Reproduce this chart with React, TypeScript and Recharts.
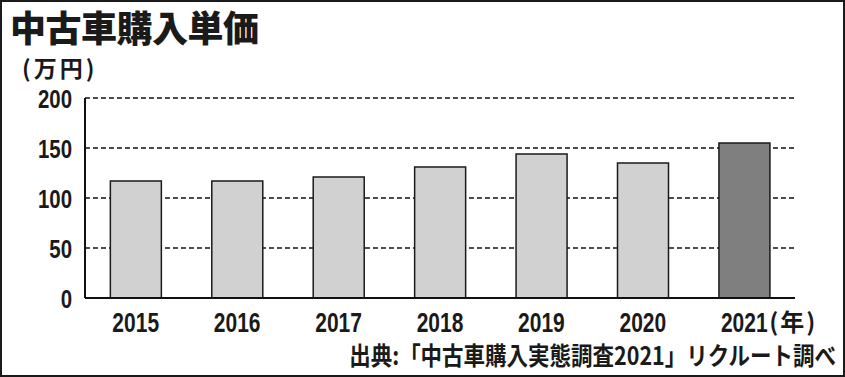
import { BarChart, Bar, XAxis, YAxis, CartesianGrid, Cell } from "recharts"

const years = ["2015", "2016", "2017", "2018", "2019", "2020", "2021"]
const prices = [117, 117, 121, 131, 144, 135, 155]
const yTicks = [0, 50, 100, 150, 200]

const data = years.map((year, i) => ({ year, price: prices[i] }))

const numFont = "'Liberation Sans', Arial, sans-serif"
const jpFont = "'Noto Sans CJK JP', sans-serif"
const ink = "#1a1a1a"

// condensed digits: Liberation Sans Bold squeezed horizontally
const XTick = (props: any) => {
  const { x, y, payload, index } = props
  const last = index === years.length - 1
  return (
    <g>
      <text
        transform={`translate(${x},${y + 19}) scale(0.75,1)`}
        textAnchor="middle"
        fontFamily={numFont}
        fontWeight="bold"
        fontSize={28}
        fill={ink}
      >
        {payload.value}
      </text>
      {last && (
        <text x={x + 25} y={y} dy={18} fontFamily={jpFont} fontWeight="bold" fontSize={24} letterSpacing={2} fill={ink}>
          (年)
        </text>
      )}
    </g>
  )
}

const YTick = (props: any) => {
  const { x, y, payload } = props
  return (
    <text
      transform={`translate(${x},${y + 9.5}) scale(0.77,1)`}
      textAnchor="end"
      fontFamily={numFont}
      fontWeight="bold"
      fontSize={26.5}
      fill={ink}
    >
      {payload.value}
    </text>
  )
}

export default function App() {
  return (
    <div style={{ position: "absolute", left: 0, top: 0, width: 845, height: 377, background: "#fff" }}>
      <BarChart
        width={845}
        height={377}
        data={data}
        margin={{ top: 98, right: 50, bottom: 0, left: 25 }}
        barCategoryGap="25%"
      >
        <CartesianGrid vertical={false} stroke="#111" strokeDasharray="5 3" strokeWidth={1.5} />
        <XAxis
          dataKey="year"
          height={79}
          tickLine={false}
          tickSize={0}
          tickMargin={15}
          axisLine={{ stroke: "#111", strokeWidth: 2 }}
          tick={<XTick />}
          interval={0}
        />
        <YAxis
          width={60}
          domain={[0, 200]}
          ticks={yTicks}
          tickLine={false}
          tickSize={0}
          tickMargin={13}
          axisLine={{ stroke: "#111", strokeWidth: 2 }}
          tick={<YTick />}
        />
        <Bar dataKey="price" stroke={ink} strokeWidth={1.5} isAnimationActive={false}>
          {data.map((d, i) => (
            <Cell key={d.year} fill={i === data.length - 1 ? "#7f7f7f" : "#d1d1d1"} />
          ))}
        </Bar>
      </BarChart>
      <svg width={845} height={377} style={{ position: "absolute", left: 0, top: 0, pointerEvents: "none" }}>
        <rect x={1} y={1} width={843} height={375} fill="none" stroke={ink} strokeWidth={2} />
        <text x={10} y={42} fontFamily={jpFont} fontWeight={900} fontSize={36} letterSpacing={-0.5} fill={ink}>
          中古車購入単価
        </text>
        <text x={22} y={77} fontFamily={jpFont} fontWeight="bold" fontSize={23} letterSpacing={3} fill={ink}>
          (万円)
        </text>
        <text
          transform="translate(836,365) scale(1,1.15)"
          textAnchor="end"
          fontFamily={jpFont}
          fontWeight="bold"
          fontSize={21.5}
          fill={ink}
        >
          出典:「中古車購入実態調査2021」リクルート調べ
        </text>
      </svg>
    </div>
  )
}
